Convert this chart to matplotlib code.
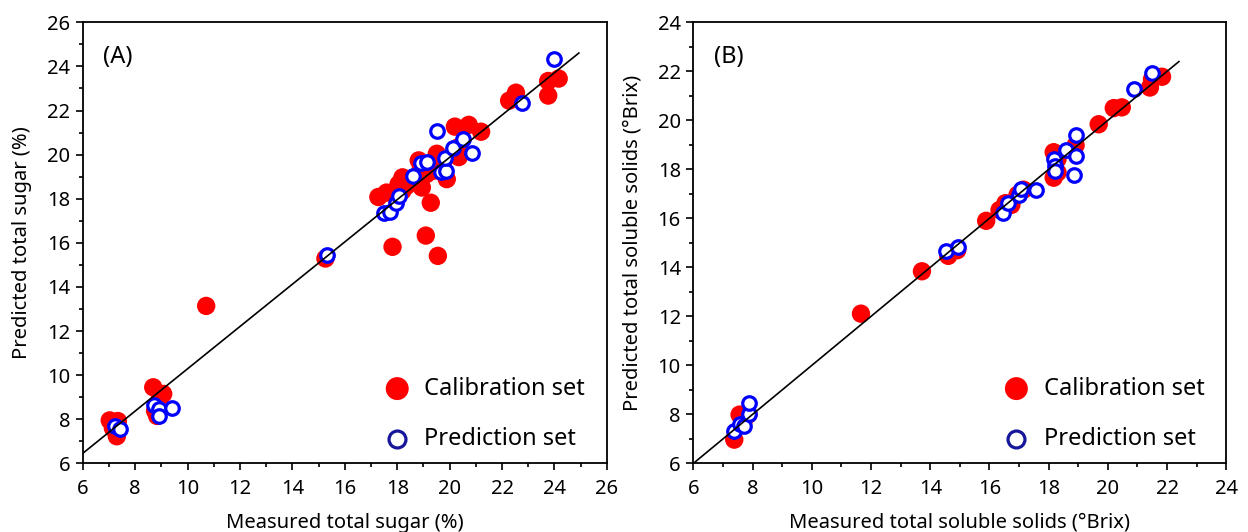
import numpy as np
import matplotlib.pyplot as plt
from matplotlib.ticker import MultipleLocator

plt.rcParams['font.family'] = ['Noto Sans', 'DejaVu Sans']

# ---- panel A : total sugar (%) ----
sug_cal_x = [7.03, 7.34, 7.30, 7.15, 8.69, 9.07, 8.76, 8.84, 8.90, 10.71, 15.26,
             17.28, 17.59, 17.82, 19.09, 19.55, 19.28, 18.20, 18.36, 18.05, 18.82,
             18.94, 18.90, 19.51, 19.43, 19.89, 20.20, 20.73, 21.20, 20.35, 20.35,
             19.74, 22.27, 22.53, 23.76, 23.76, 24.16, 18.20, 19.12]
sug_cal_y = [7.95, 7.92, 7.23, 7.60, 9.45, 9.15, 8.38, 8.15, 8.80, 13.14, 15.29,
             18.08, 18.28, 15.82, 16.33, 15.41, 17.82, 18.97, 18.59, 18.66, 19.74,
             18.51, 19.35, 20.04, 19.28, 18.89, 21.27, 21.35, 21.04, 19.89, 20.35,
             19.58, 22.45, 22.81, 23.34, 22.68, 23.45, 18.36, 19.12]
sug_pred_x = [7.23, 7.43, 8.72, 8.92, 8.92, 9.42, 15.32, 17.48, 17.71, 17.97, 18.08,
              18.59, 18.90, 19.12, 19.51, 19.66, 19.86, 19.81, 20.12, 20.50, 20.84,
              22.76, 24.00]
sug_pred_y = [7.69, 7.57, 8.66, 8.46, 8.15, 8.53, 15.47, 17.36, 17.40, 17.82, 18.13,
              19.05, 19.61, 19.66, 21.07, 19.20, 19.28, 19.86, 20.32, 20.73, 20.07,
              22.32, 24.34]
sug_fit = [0.959, 0.70]   # slope, intercept
sug_fit_range = [6.0, 24.93]

# ---- panel B : total soluble solids (°Brix) ----
tss_cal_x = [7.38, 7.56, 7.72, 7.86, 11.66, 13.72, 14.61, 14.91, 15.89, 16.34, 16.54,
             16.74, 16.95, 17.15, 18.17, 18.17, 18.30, 18.30, 18.91, 19.69, 20.20,
             20.47, 21.42, 21.83, 21.49]
tss_cal_y = [6.97, 7.99, 7.80, 8.00, 12.11, 13.84, 14.47, 14.70, 15.90, 16.34, 16.62,
             16.55, 16.96, 17.17, 18.70, 17.66, 17.87, 18.42, 18.98, 19.84, 20.50,
             20.53, 21.34, 21.78, 21.68]
tss_pred_x = [7.38, 7.59, 7.72, 7.89, 7.89, 14.53, 14.94, 16.47, 16.61, 17.01, 17.08,
              17.56, 18.17, 18.20, 18.20, 18.60, 18.91, 18.91, 18.87, 20.88, 21.49]
tss_pred_y = [7.32, 7.60, 7.53, 8.01, 8.46, 14.67, 14.84, 16.23, 16.62, 16.96, 17.20,
              17.17, 18.42, 18.14, 17.94, 18.77, 19.39, 18.56, 17.76, 21.27, 21.92]
tss_fit = [1.0, 0.0]
tss_fit_range = [6.0, 22.4]

fig = plt.figure(figsize=(12.48, 5.32), dpi=100)
ax1 = fig.add_axes([0.0663, 0.129, 0.420, 0.829])
ax2 = fig.add_axes([0.5556, 0.129, 0.427, 0.829])


def panel(ax, cx, cy, px, py, fit, rng, lims, xlabel, ylabel, tag):
    ax.scatter(cx, cy, s=175, c='red', edgecolors='none', zorder=2,
               label='Calibration set')
    ax.scatter(px, py, s=95, facecolors='white', edgecolors='blue',
               linewidths=2.3, zorder=3, label='Prediction set')
    xx = np.array(rng)
    ax.plot(xx, fit[0] * xx + fit[1], color='black', lw=1.2, zorder=4)
    ax.set_xlim(lims[0], lims[1])
    ax.set_ylim(lims[0], lims[1])
    ax.xaxis.set_major_locator(MultipleLocator(2))
    ax.yaxis.set_major_locator(MultipleLocator(2))
    ax.xaxis.set_minor_locator(MultipleLocator(1))
    ax.yaxis.set_minor_locator(MultipleLocator(1))
    ax.tick_params(which='both', direction='out', top=False, right=False,
                   labelsize=14.5, width=1.2)
    ax.tick_params(axis='x', pad=6)
    ax.tick_params(axis='y', pad=4)
    ax.tick_params(which='major', length=5)
    ax.tick_params(which='minor', length=3)
    for sp in ax.spines.values():
        sp.set_linewidth(1.3)
    ax.set_xlabel(xlabel, fontsize=14.5, labelpad=10)
    ax.set_ylabel(ylabel, fontsize=14.5, labelpad=11)
    ax.text(0.039, 0.921, tag, transform=ax.transAxes, fontsize=17,
            ha='left', va='center')
    leg = ax.legend(loc='lower right', bbox_to_anchor=(0.972, 0.0125),
                    frameon=False, fontsize=17, markerscale=1.25,
                    handletextpad=0.15, labelspacing=1.1,
                    borderaxespad=0, borderpad=0.3)
    leg.legend_handles[1].set_edgecolor('#16169a')


panel(ax1, sug_cal_x, sug_cal_y, sug_pred_x, sug_pred_y, sug_fit, sug_fit_range,
      (6, 26), 'Measured total sugar (%)', 'Predicted total sugar (%)', '(A)')
panel(ax2, tss_cal_x, tss_cal_y, tss_pred_x, tss_pred_y, tss_fit, tss_fit_range,
      (6, 24), 'Measured total soluble solids (°Brix)',
      'Predicted total soluble solids (°Brix)', '(B)')

fig.savefig('out.png', dpi=100)
